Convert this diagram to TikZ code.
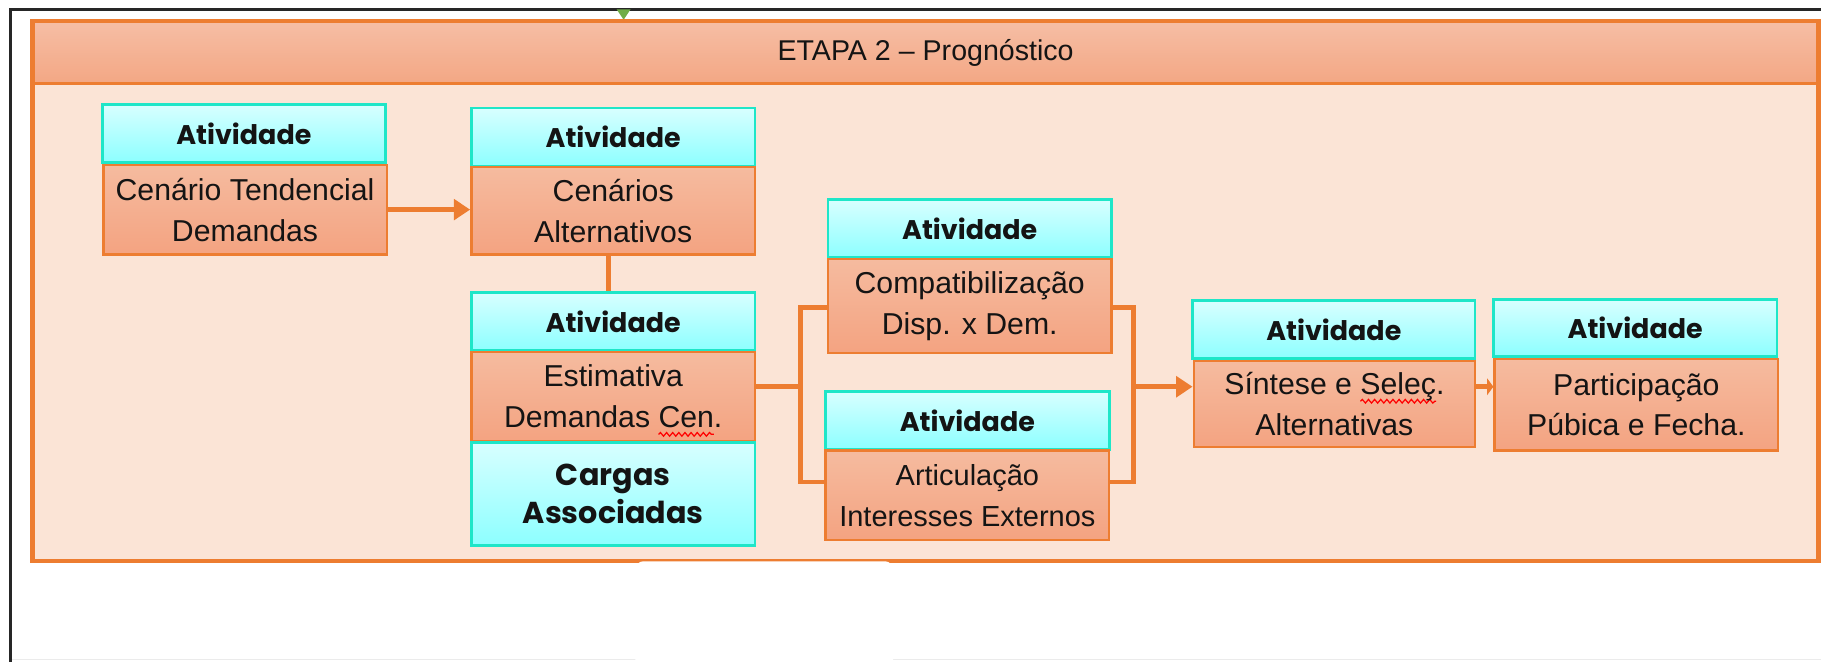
\documentclass[tikz,border=0pt]{standalone}
\usepackage{fontspec}
\usetikzlibrary{arrows.meta,decorations.pathmorphing}
\setmainfont{Liberation Sans}
\newfontfamily\arialf{Liberation Sans}
\newfontfamily\gothf{Poppins}
\definecolor{orline}{HTML}{ED7D31}
\definecolor{bodyc}{HTML}{FBE4D6}
\definecolor{hdtop}{HTML}{F6BEA5}
\definecolor{hdbot}{HTML}{F3A784}
\definecolor{ortop}{HTML}{F5BB9F}
\definecolor{orbot}{HTML}{F4A381}
\definecolor{cytop}{HTML}{D8FFFF}
\definecolor{cybot}{HTML}{8CFFFF}
\definecolor{cyline}{HTML}{1EE6C8}
\definecolor{textc}{HTML}{141414}
\definecolor{greentri}{HTML}{70AD47}
\newlength\wvlen
\newcommand\wavy[1]{\settowidth\wvlen{#1}\tikz[overlay,baseline=0pt,x=1pt,y=1pt]\draw[red,line width=0.3pt,decorate,decoration={snake,amplitude=0.45pt,segment length=1.5pt}] (0pt,-1.6pt) -- (\wvlen,-1.6pt);#1}
\begin{document}
\begin{tikzpicture}[x=0.01cm,y=-0.01cm,
  cyanbox/.style={draw=cyline,line width=0.7pt,top color=cytop,bottom color=cybot,
    minimum width=2.44cm,minimum height=#1,inner sep=0pt,align=center,text=textc,
    font=\gothf\bfseries\fontsize{6.6}{9.2}\selectfont},
  cyanbox/.default=0.5cm,
  orbox/.style={draw=orline,line width=0.6pt,top color=ortop,bottom color=orbot,
    minimum width=2.44cm,minimum height=#1,inner sep=0pt,align=center,text=textc,
    font=\arialf\fontsize{7.4}{10}\selectfont},
  conn/.style={draw=orline,line width=1.2pt},
  arr/.style={conn,-{Triangle[length=4pt,width=5pt]}},
  arrsmall/.style={conn,-{Triangle[length=1.5pt,width=4pt]}}]
\useasboundingbox (0,0) rectangle (1568,570);
\fill[white] (0,0) rectangle (1568,570);
% outer frame of the page
\draw[black!8,line width=0.4pt] (9,568) -- (1568,568);
\draw[black!85,line width=0.7pt] (1570,8) -- (9,8) -- (9,572);
\fill[greentri] (531,8) -- (543,8) -- (537,17) -- cycle;
% stage frame
\fill[bodyc] (28,18) rectangle (1566,483);
\shade[top color=hdtop,bottom color=hdbot] (28,18) rectangle (1566,72);
\draw[orline,line width=0.8pt] (28,72) -- (1566,72);
\draw[orline,line width=1.1pt] (28,18) rectangle (1566,483);
\fill[white,rounded corners=2pt] (547,483.3) rectangle (769,575);
\node[font=\arialf\fontsize{7}{8}\selectfont,text=textc] (title) at (797,46) {ETAPA 2 – Prognóstico};
% activities
\node[cyanbox] (c1) at (210,115) {Atividade};
\node[orbox=0.77cm] (o1) at (211,180.5) {Cenário Tendencial\\Demandas};
\node[cyanbox] (c2) at (528,118) {Atividade};
\node[orbox=0.75cm] (o2) at (528,181.5) {Cenários\\Alternativos};
\node[cyanbox] (c3) at (528,277) {Atividade};
\node[orbox=0.77cm] (o3) at (528,341.5) {Estimativa\\Demandas \wavy{Cen}.};
\node[cyanbox=0.89cm,font=\gothf\bfseries\fontsize{7.4}{9.2}\selectfont] (cg) at (528,425.5) {Cargas\\Associadas};
\node[cyanbox] (c4) at (835,197) {Atividade};
\node[orbox=0.81cm] (o4) at (835,263.5) {Compatibilização\\Disp. x Dem.};
\node[cyanbox] (c5) at (833,362) {Atividade};
\node[orbox=0.77cm,font=\arialf\fontsize{7.1}{10}\selectfont] (o5) at (833,426.5) {Articulação\\Interesses Externos};
\node[cyanbox,minimum width=2.43cm] (c6) at (1148.5,284) {Atividade};
\node[orbox=0.74cm,minimum width=2.42cm] (o6) at (1149,348) {Síntese e \wavy{Seleç}.\\Alternativas};
\node[cyanbox=0.49cm] (c7) at (1408,282.5) {Atividade};
\node[orbox=0.79cm] (o7) at (1409,348.5) {Participação\\Púbica e Fecha.};
% connectors
\draw[arr] (o1.east) -- (o1.east -| o2.west);
\draw[conn] ([xshift=-0.04cm]o2.south) -- ([xshift=-0.04cm]c3.north);
\coordinate (jm) at (689,333);
\coordinate (ju) at (689,265);
\coordinate (jd) at (689,415);
\coordinate (km) at (976,333);
\coordinate (ku) at (976,265);
\coordinate (kd) at (976,415);
\draw[conn] (jm -| o3.east) -- (jm);
\draw[conn] (ju -| o4.west) -- (ju) -- (jd) -- (jd -| o5.west);
\draw[conn] (ku -| o4.east) -- (ku) -- (kd) -- (kd -| o5.east);
\draw[arr] (km) -- (km -| o6.west);
\draw[arrsmall] (km -| o6.east) -- (km -| o7.west);
\end{tikzpicture}
\end{document}
